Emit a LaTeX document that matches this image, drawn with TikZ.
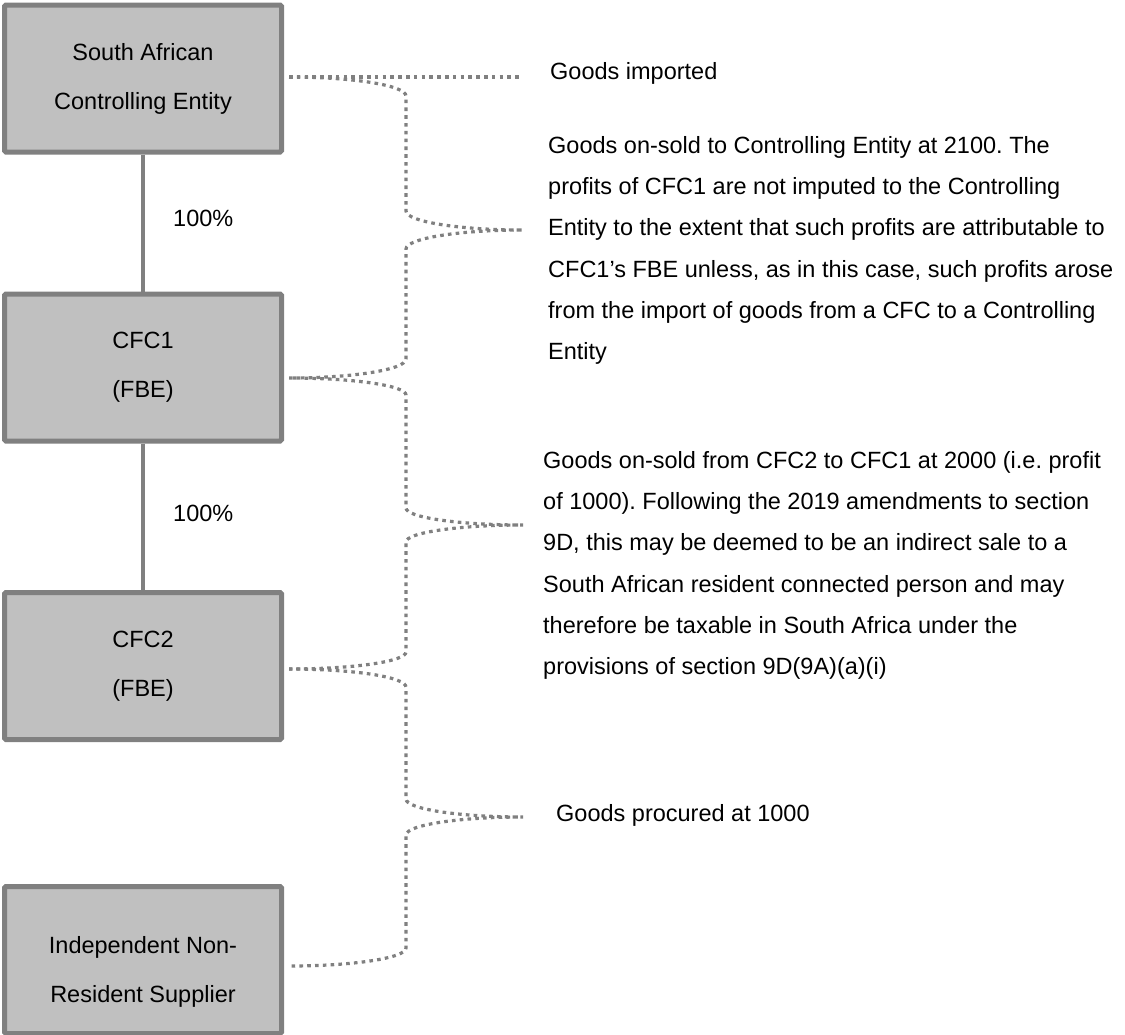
\documentclass[tikz,border=0pt]{standalone}
\usepackage{fontspec}
\setmainfont{Liberation Sans}
\usetikzlibrary{calc}
\definecolor{boxfill}{HTML}{C0C0C0}
\definecolor{boxline}{HTML}{808080}
\frenchspacing
\tikzset{
  entity/.style={draw=boxline, fill=boxfill, line width=5pt, minimum width=277pt,
    minimum height=147pt, inner sep=0pt, align=center, rounded corners=1.5pt,
    font=\fontsize{23.5}{49}\selectfont},
  ownline/.style={draw=boxline, line width=3.2pt},
  dotline/.style={draw=boxline, line width=3.2pt, dash pattern=on 3.6pt off 4.2pt},
  note/.style={inner sep=0pt, align=left, font=\fontsize{23.5}{41.3}\selectfont},
  pct/.style={inner sep=0pt, font=\fontsize{23.5}{28}\selectfont},
}
\newcommand{\bracepath}[4]{%
  \draw[dotline] (#1) .. controls +(64.6,0) and +(0,{-0.5523*#4}) .. ($(#1)+(117,#4)$)
    -- ($(#2)+(-117,-#4)$) .. controls +(0,{0.5523*#4}) and +(-64.6,0) .. (#2)
    .. controls +(-64.6,0) and +(0,{-0.5523*#4}) .. ($(#2)+(-117,#4)$)
    -- ($(#3)+(117,-#4)$) .. controls +(0,{0.5523*#4}) and +(64.6,0) .. (#3);}
\begin{document}
\begin{tikzpicture}[x=1pt,y=-1pt]
\fill[white] (0,0) rectangle (1125,1034);
\useasboundingbox (0,0) rectangle (1125,1034);

% boxes
\node[entity] (sa) at (143,78.5) {South African\\Controlling Entity};
\node[entity] (c1) at (143,367.5) {CFC1\\(FBE)};
\node[entity] (c2) at (143,666) {CFC2\\(FBE)};
\node[entity, label={[yshift=-12pt, inner sep=0pt, align=center, font=\fontsize{23.5}{49}\selectfont]center:Independent Non-\\Resident Supplier}] (sup) at (143,960) {};

% ownership lines
\draw[ownline] (sa.south) -- (c1.north);
\draw[ownline] (c1.south) -- (c2.north);
\node[pct, anchor=base west] (p1) at (173,226.5) {100\%};
\node[pct, anchor=base west] (p2) at (173,521.5) {100\%};

% brace end points
\coordinate (e1) at (289,77);
\coordinate (e2) at (289,378);
\coordinate (e3) at (289,669);
\coordinate (e4) at (289,966);
\coordinate (t0) at (523,77);
\coordinate (t1) at (523,230);
\coordinate (t2) at (523,525);
\coordinate (t3) at (523,817);

\draw[dotline] (e1) -- (t0);
\bracepath{e1}{t1}{e2}{19}
\bracepath{e2}{t2}{e3}{17}
\bracepath{e3}{t3}{e4}{18}

% notes
\node[note, anchor=base west] (n0) at (550,79) {Goods imported};
\node[note, anchor=north west] (n1) at (548,124.1) {\strut Goods on-sold to Controlling Entity at 2100. The\\
profits of CFC1 are not imputed to the Controlling\\
Entity to the extent that such profits are attributable to\\
CFC1’s FBE unless, as in this case, such profits arose\\
from the import of goods from a CFC to a Controlling\\
Entity};
\node[note, anchor=north west] (n2) at (543,439.1) {\strut Goods on-sold from CFC2 to CFC1 at 2000 (i.e. profit\\
of 1000). Following the 2019 amendments to section\\
9D, this may be deemed to be an indirect sale to a\\
South African resident connected person and may\\
therefore be taxable in South Africa under the\\
provisions of section 9D(9A)(a)(i)};
\node[note, anchor=base west] (n3) at (556,821) {Goods procured at 1000};
\end{tikzpicture}
\end{document}
